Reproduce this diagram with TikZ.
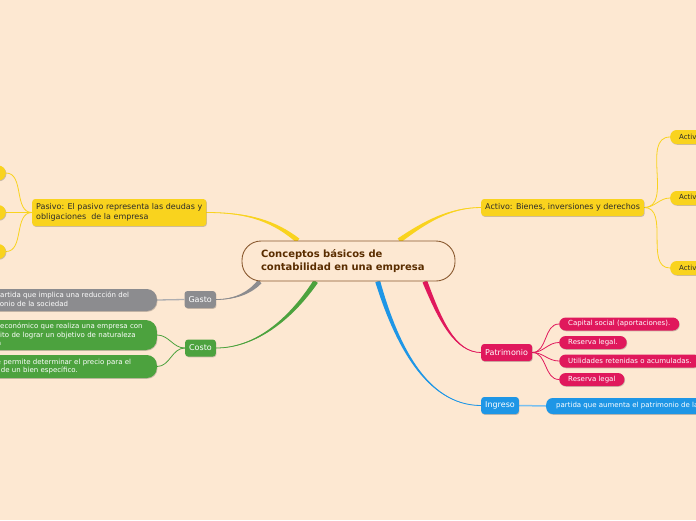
\documentclass[tikz,border=0pt]{standalone}
\usepackage{fontspec}
\setmainfont{DejaVu Sans}
\definecolor{bgPage}{HTML}{FDE8D2}
\definecolor{topicBorder}{HTML}{8A5A30}
\definecolor{topicText}{HTML}{5A2D00}
\definecolor{accentYellow}{HTML}{F9D31E}
\definecolor{accentGray}{HTML}{8C8C8F}
\definecolor{accentGreen}{HTML}{4CA23E}
\definecolor{accentRed}{HTML}{E0185C}
\definecolor{accentBlue}{HTML}{1E96E6}
\definecolor{textDark}{HTML}{2B2B2B}
\usetikzlibrary{calc, positioning, shadows, backgrounds}

% colour, offset, from, control 1, control 2, to
\newcommand{\taper}[6]{%
  \fill[#1] ($(#3)+(#2)$) .. controls ($(#4)+0.6*(#2)$) and ($(#5)+0.2*(#2)$) .. (#6)
    .. controls ($(#5)-0.2*(#2)$) and ($(#4)-0.6*(#2)$) .. ($(#3)-(#2)$) -- cycle;
  \draw[#1, line width=0.8pt] (#3) .. controls (#4) and (#5) .. (#6);
}

\tikzset{
  topic/.style={draw=topicBorder, line width=0.9pt, fill=bgPage, rounded corners=19pt,
    text=topicText, font=\fontsize{10}{13}\selectfont\bfseries, align=left,
    text width=175pt, inner xsep=19pt, minimum height=40pt},
  box/.style={rounded corners=3pt, inner xsep=4pt, inner ysep=2pt, minimum height=17pt,
    font=\fontsize{8}{10}\selectfont, align=left,
    drop shadow={shadow xshift=.6pt, shadow yshift=-.8pt, fill=black, opacity=.2}},
  leaf/.style={box, rounded corners=6.5pt, minimum height=13pt, inner xsep=9pt,
    font=\fontsize{7}{8.5}\selectfont},
  yellowBox/.style={fill=accentYellow, text=textDark},
  grayBox/.style={fill=accentGray, text=white},
  greenBox/.style={fill=accentGreen, text=white},
  redBox/.style={fill=accentRed, text=white},
  blueBox/.style={fill=accentBlue, text=white},
  link/.style={line width=0.8pt}
}

\begin{document}
\begin{tikzpicture}[x=1pt, y=-1pt]
  \useasboundingbox (0,0) rectangle (696,520);

  % central topic
  \node[topic] (ctr) at (348.5,261) {Conceptos básicos de\\contabilidad en una empresa};

  % main topics
  \node[box, yellowBox, anchor=west] (act) at (481,207.5) {Activo: Bienes, inversiones y derechos};
  \node[box, yellowBox, anchor=west, minimum height=27pt, inner xsep=4pt] (pas) at (32,212.5)
    {Pasivo: El pasivo representa las deudas y\\obligaciones\ \ de la empresa};
  \node[box, grayBox, anchor=east] (gas) at (216,299.5) {Gasto};
  \node[box, greenBox, anchor=east] (cos) at (216,348) {Costo};
  \node[box, redBox, anchor=west, inner xsep=4pt] (pat) at (481,352.5) {Patrimonio};
  \node[box, blueBox, anchor=west, inner xsep=4pt] (ing) at (481,405.5) {Ingreso};

  % subtopics
  \node[leaf, yellowBox, anchor=west, minimum height=14pt] (ac1) at (670,137) {Activo circulante};
  \node[leaf, yellowBox, anchor=west, minimum height=14pt] (ac2) at (670,198) {Activo fijo};
  \node[leaf, yellowBox, anchor=west, minimum height=14pt] (ac3) at (670,268) {Activo diferido};

  \node[leaf, yellowBox, anchor=east, minimum width=30pt, minimum height=15pt, rounded corners=7.5pt] (pc1) at (6,173) {};
  \node[leaf, yellowBox, anchor=east, minimum width=30pt, minimum height=15pt, rounded corners=7.5pt] (pc2) at (6,212.5) {};
  \node[leaf, yellowBox, anchor=east, minimum width=30pt, minimum height=15pt, rounded corners=7.5pt] (pc3) at (6,251.5) {};

  \node[leaf, grayBox, anchor=east, rounded corners=10pt, minimum height=22pt, inner xsep=4pt,
    text width=176pt, font=\fontsize{7}{9}\selectfont] (gc) at (157,300)
    {Es la partida que implica una reducción del\\patrimonio de la sociedad};
  \node[leaf, greenBox, anchor=east, rounded corners=11pt, minimum height=30pt, inner xsep=4pt,
    text width=185pt] (cc1) at (157,335)
    {Esfuerzo económico que realiza una empresa con\\el propósito de lograr un objetivo de naturaleza\\operativa};
  \node[leaf, greenBox, anchor=east, rounded corners=10pt, minimum height=23pt, inner xsep=4pt,
    text width=185pt] (cc2) at (157,366.5)
    {Valor que permite determinar el precio para el\\mercado de un bien específico.};

  \node[leaf, redBox, anchor=west] (pt1) at (559,324) {Capital social (aportaciones).};
  \node[leaf, redBox, anchor=west] (pt2) at (559,342.5) {Reserva legal.};
  \node[leaf, redBox, anchor=west] (pt3) at (559,361) {Utilidades retenidas o acumuladas.};
  \node[leaf, redBox, anchor=west] (pt4) at (559,379.5) {Reserva legal};

  \node[leaf, blueBox, anchor=west, minimum height=16pt, inner xsep=10pt] (ic) at (546,406)
    {partida que aumenta el patrimonio de la sociedad};

  \begin{scope}[on background layer]
    \fill[bgPage] (0,0) rectangle (696,520);
    % branches from the central topic
    \taper{accentYellow}{1.4,2.1}{ctr.22}{425,222}{450,207.5}{act.west}
    \taper{accentYellow}{1.55,-1.95}{ctr.158}{275,222}{250,212.5}{pas.east}
    \taper{accentGray}{1.55,1.95}{ctr.193}{250,293}{235,299.5}{gas.east}
    \taper{accentGreen}{2.1,1.4}{ctr.212}{290,320}{255,348}{cos.east}
    \taper{accentBlue}{2.4,-0.7}{ctr.325}{395,340}{425,405.5}{ing.west}
    \taper{accentRed}{2.25,-1.1}{ctr.345}{440,320}{455,352.5}{pat.west}

    % links to subtopics
    \foreach \n in {ac1, ac2, ac3}
      \draw[link, accentYellow] (act.east) to[out=0, in=180] (\n.west);
    \foreach \n in {pc1, pc2, pc3}
      \draw[link, accentYellow] (pas.west) to[out=180, in=0] (\n.east);
    \foreach \n in {cc1, cc2}
      \draw[link, accentGreen] (cos.west) to[out=180, in=0] (\n.east);
    \foreach \n in {pt1, pt2, pt3, pt4}
      \draw[link, accentRed] (pat.east) to[out=0, in=180] (\n.west);
    \draw[line width=1.3pt, accentGray!70] (gas.west) -- (gc.east);
    \draw[line width=1.5pt, accentBlue!60] (ing.east) -- (ic.west);
  \end{scope}
\end{tikzpicture}
\end{document}
